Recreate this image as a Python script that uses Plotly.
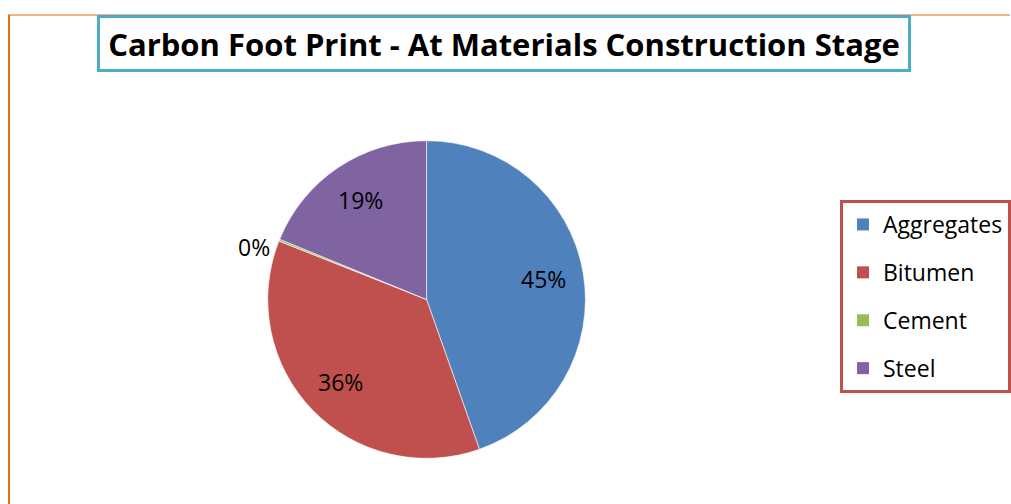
import math
import plotly.graph_objects as go

categories = ["Aggregates", "Bitumen", "Cement", "Steel"]
values = [44.6, 36.4, 0.2, 18.8]
colors = ["#4F81BD", "#C0504D", "#9BBB59", "#8064A2"]
label_outside = [False, False, True, False]
title_text = "Carbon Foot Print - At Materials Construction Stage"

W, H = 1011, 504
CX, CY, R = 427.0, 299.5, 159.0  # pie centre / radius in figure pixels

fig = go.Figure()
fig.add_trace(go.Pie(
    labels=categories, values=values, sort=False, direction="clockwise", rotation=0,
    marker=dict(colors=colors, line=dict(color="white", width=0.6)),
    textinfo="none", showlegend=False, hoverinfo="label+percent",
    domain=dict(x=[(CX - R) / W, (CX + R) / W], y=[1 - (CY + R) / H, 1 - (CY - R) / H]),
))

# percentage labels placed along each slice's bisector
total = sum(values)
cum = 0.0
for c, v, out in zip(categories, values, label_outside):
    mid = (cum + v / 2) / total * 2 * math.pi
    cum += v
    pct = f"{round(v / total * 100):.0f}%"
    if out:
        rr = R * 1.05
        xa, ys = "right", -10
    else:
        rr = R * 0.75
        xa, ys = "center", 0
    px = CX + rr * math.sin(mid)
    py = CY - rr * math.cos(mid)
    fig.add_annotation(text=pct, xref="paper", yref="paper", x=px / W, y=1 - py / H,
                       xanchor=xa, yanchor="middle", yshift=ys, showarrow=False,
                       font=dict(family="Open Sans", size=23, color="black"))

for c, col in zip(categories, colors):
    fig.add_trace(go.Scatter(
        x=[None], y=[None], mode="markers", name=c, legendgroup=c,
        marker=dict(symbol="square", size=14, color=col),
        showlegend=True,
    ))

fig.add_annotation(
    text="<b>" + title_text + "</b>", xref="paper", yref="paper",
    x=504.5 / W, y=1 - 43.3 / H, xanchor="center", yanchor="middle", showarrow=False,
    font=dict(family="Open Sans", size=31, color="black"),
    width=806, height=49, bordercolor="#4BACC6", borderwidth=3, borderpad=1,
    bgcolor="white",
)

fig.add_shape(type="line", xref="paper", yref="paper", x0=8 / W, x1=1, y0=1 - 15 / H, y1=1 - 15 / H,
              line=dict(color="#E46C0A", width=1.2), layer="below")
fig.add_shape(type="line", xref="paper", yref="paper", x0=9 / W, x1=9 / W, y0=0, y1=1 - 15 / H,
              line=dict(color="#E46C0A", width=2))

fig.update_layout(
    width=W, height=H, margin=dict(l=0, r=0, t=0, b=0),
    paper_bgcolor="white", plot_bgcolor="white",
    xaxis=dict(visible=False), yaxis=dict(visible=False),
    legend=dict(
        x=841 / W, y=1 - 200 / H, xanchor="left", yanchor="top",
        bordercolor="#C0504D", borderwidth=3, bgcolor="white",
        font=dict(family="Open Sans", size=23, color="black"),
        tracegroupgap=15, itemsizing="constant",
    ),
)

fig.write_html(
    "out.html",
    config={"displayModeBar": False},
    post_script="document.body.style.margin='0';document.body.style.overflow='hidden';",
)
